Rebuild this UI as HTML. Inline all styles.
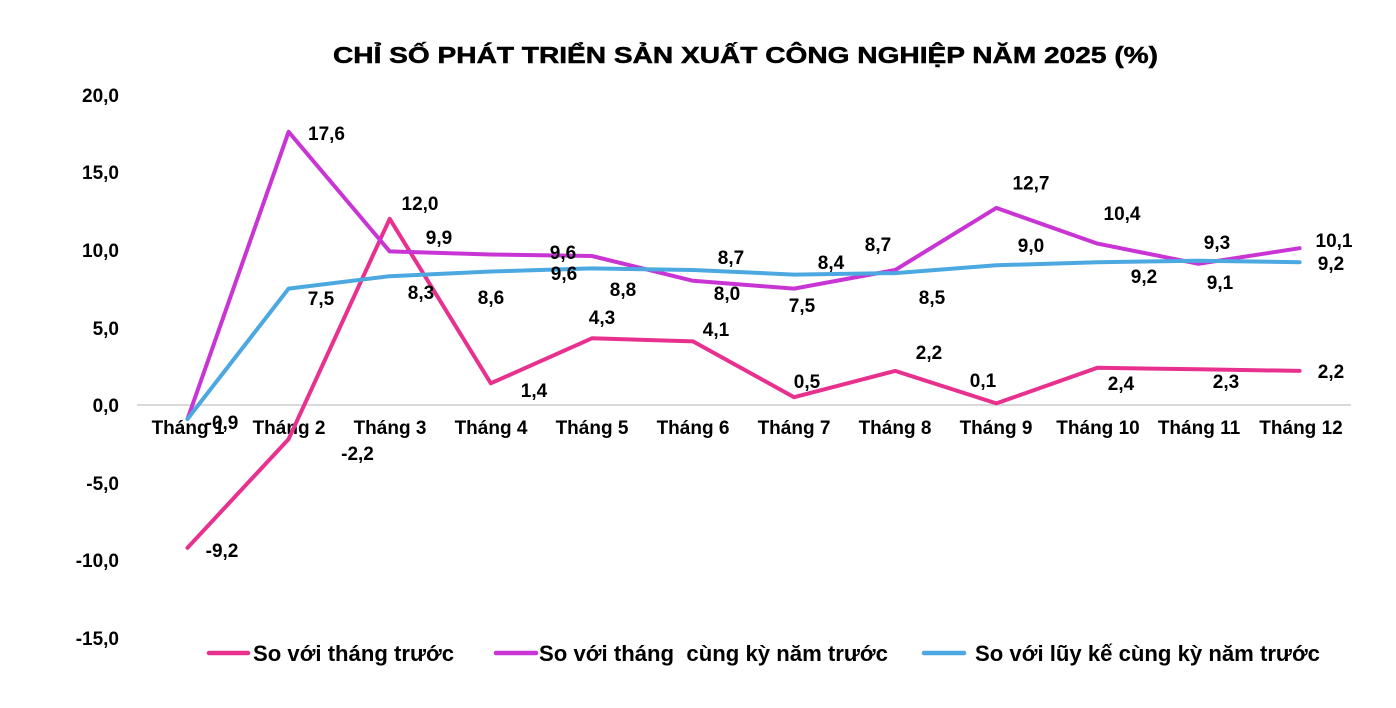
<!DOCTYPE html>
<html>
<head>
<meta charset="utf-8">
<style>
  html, body { margin:0; padding:0; background:#ffffff; }
  svg { display:block; }
  text { font-family: "Liberation Sans", Arial, sans-serif; font-weight: bold; fill:#000; }
</style>
</head>
<body>
<svg width="1396" height="708" viewBox="0 0 1396 708" xmlns="http://www.w3.org/2000/svg">
  <rect width="1396" height="708" fill="#ffffff"/>

  <!-- Title -->
  <text x="333" y="63" font-size="23" stroke="#000" stroke-width="0.5" textLength="825" lengthAdjust="spacingAndGlyphs">CHỈ SỐ PHÁT TRIỂN SẢN XUẤT CÔNG NGHIỆP NĂM 2025 (%)</text>

  <!-- Y axis labels -->
  <g font-size="19" text-anchor="end">
    <text x="119" y="102">20,0</text>
    <text x="119" y="179">15,0</text>
    <text x="119" y="257">10,0</text>
    <text x="119" y="335">5,0</text>
    <text x="119" y="412">0,0</text>
    <text x="119" y="490">-5,0</text>
    <text x="119" y="567">-10,0</text>
    <text x="119" y="645">-15,0</text>
  </g>

  <!-- Zero axis line -->
  <line x1="137" y1="405" x2="1351" y2="405" stroke="#d9d9d9" stroke-width="2"/>

  <!-- Category labels -->
  <g font-size="19" text-anchor="middle">
    <text x="188" y="434">Tháng 1</text>
    <text x="289" y="434">Tháng 2</text>
    <text x="390" y="434">Tháng 3</text>
    <text x="491" y="434">Tháng 4</text>
    <text x="592" y="434">Tháng 5</text>
    <text x="693" y="434">Tháng 6</text>
    <text x="794" y="434">Tháng 7</text>
    <text x="895" y="434">Tháng 8</text>
    <text x="996" y="434">Tháng 9</text>
    <text x="1098" y="434">Tháng 10</text>
    <text x="1199" y="434">Tháng 11</text>
    <text x="1301" y="434">Tháng 12</text>
  </g>

  <!-- Series lines -->
  <g fill="none" stroke-width="4" stroke-linejoin="round" stroke-linecap="round">
    <polyline stroke="#e8318e" points="187.5,547.8 288.6,439.1 389.7,218.8 490.8,383.3 591.9,338.3 693.0,341.4 794.1,397.2 895.2,370.9 996.3,403.4 1097.4,367.8 1198.5,369.3 1299.6,370.9"/>
    <polyline stroke="#c935d4" points="187.5,419.0 288.6,131.8 389.7,251.4 490.8,254.5 591.9,256.0 693.0,280.8 794.1,288.6 895.2,270.0 996.3,207.9 1097.4,243.6 1198.5,263.8 1299.6,248.2"/>
    <polyline stroke="#4ca8e0" points="187.5,419.0 288.6,288.6 389.7,276.2 490.8,271.5 591.9,268.4 693.0,270.0 794.1,274.6 895.2,273.1 996.3,265.3 1097.4,262.2 1198.5,260.7 1299.6,262.2"/>
  </g>

  <!-- Data labels -->
  <g font-size="19" text-anchor="middle">
    <text x="222" y="429">-0,9</text>
    <text x="222" y="557">-9,2</text>
    <text x="326.5" y="140">17,6</text>
    <text x="321" y="305">7,5</text>
    <text x="357.5" y="460">-2,2</text>
    <text x="420" y="210">12,0</text>
    <text x="439" y="244">9,9</text>
    <text x="421" y="299">8,3</text>
    <text x="491" y="304">8,6</text>
    <text x="534" y="397">1,4</text>
    <text x="563" y="259">9,6</text>
    <text x="564" y="280">9,6</text>
    <text x="623" y="296">8,8</text>
    <text x="602" y="324">4,3</text>
    <text x="731" y="264">8,7</text>
    <text x="727" y="300">8,0</text>
    <text x="716" y="336">4,1</text>
    <text x="802" y="312">7,5</text>
    <text x="807" y="388">0,5</text>
    <text x="831" y="269">8,4</text>
    <text x="878" y="251">8,7</text>
    <text x="932" y="304">8,5</text>
    <text x="929" y="359">2,2</text>
    <text x="1031" y="189.5">12,7</text>
    <text x="1031" y="252">9,0</text>
    <text x="983" y="387">0,1</text>
    <text x="1122" y="220">10,4</text>
    <text x="1144" y="283">9,2</text>
    <text x="1121" y="390">2,4</text>
    <text x="1217" y="249">9,3</text>
    <text x="1220" y="289">9,1</text>
    <text x="1226" y="388">2,3</text>
    <text x="1334" y="247">10,1</text>
    <text x="1331" y="270">9,2</text>
    <text x="1331" y="378">2,2</text>
  </g>

  <!-- Legend -->
  <g stroke-width="4.5" stroke-linecap="round">
    <line x1="209" y1="653" x2="248" y2="653" stroke="#e8318e"/>
    <line x1="496" y1="653" x2="536" y2="653" stroke="#c935d4"/>
    <line x1="924" y1="653" x2="964" y2="653" stroke="#4ca8e0"/>
  </g>
  <g font-size="22">
    <text x="253" y="661" textLength="201" lengthAdjust="spacingAndGlyphs">So với tháng trước</text>
    <text x="539" y="661" textLength="349" lengthAdjust="spacingAndGlyphs" xml:space="preserve">So với tháng  cùng kỳ năm trước</text>
    <text x="975" y="661" textLength="345" lengthAdjust="spacingAndGlyphs">So với lũy kế cùng kỳ năm trước</text>
  </g>
</svg>
</body>
</html>
